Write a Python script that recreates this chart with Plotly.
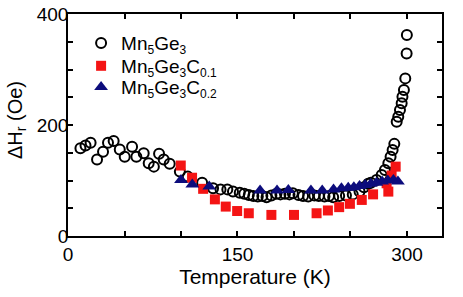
import plotly.graph_objects as go

# Mn5Ge3 (open circles)
t_ge3 = [11, 15.5, 20, 25.7, 31, 35.4, 40.4, 45.8, 50.2, 56.7, 60.5, 67, 71.4, 76, 80.6, 84.7, 90,
         99, 106, 118.7, 128.4, 135, 141, 146, 152, 156, 160, 164, 168, 172, 175.7, 180, 184.5, 188,
         192, 196, 199, 204, 208, 212.6, 218, 222, 227, 231, 234.7, 240, 246, 252, 258, 262, 265.7, 268,
         273, 277.6, 280.5, 283.5, 285.5, 287.3, 288.8, 290.9, 292.3, 293.8, 295.3, 296, 297.3, 298.5,
         299.7, 299.9]
y_ge3 = [158, 163, 168, 138, 152, 168, 171, 156, 143, 161, 143, 149, 131, 125, 148, 138, 130,
         116, 107, 96, 86, 84, 84, 80, 78, 76, 74, 72, 71, 72, 70, 73, 76, 75,
         76, 75, 77, 74, 72, 71, 73, 72, 71, 72, 70, 72, 73, 75, 80, 88, 94, 96,
         101, 110, 119, 131, 143, 155, 166, 206, 215, 227, 239, 251, 263, 284,
         329, 362]

# Mn5Ge3C0.1 (red squares)
t_c01 = [99.8, 109.8, 119.6, 130, 139.6, 149.7, 160, 180, 200, 220, 230, 240, 249.5, 260, 270,
         282, 283.5, 286.4, 290]
y_c01 = [127, 105, 85, 66, 53, 45, 41, 38, 38, 41, 46, 52, 58, 65, 75,
         95, 80, 109, 125]

# Mn5Ge3C0.2 (navy triangles)
t_c02 = [100, 110, 125, 170, 185, 195, 215, 225, 235, 242, 248, 253, 258, 263, 268, 273, 278, 283,
         288, 292]
y_c02 = [101, 93, 89, 82, 82, 83, 82, 82, 84, 86, 87, 88, 90, 92, 94, 96, 98, 100, 101, 98]

x_ticks = [0, 150, 300]
y_ticks = [0, 200, 400]

FONT = "Liberation Sans, Arial, sans-serif"


def sub(s):
    return "<sub><span style='font-size:12px'>" + s + "</span></sub>"


name_ge3 = "Mn" + sub("5") + "Ge" + sub("3")
name_c01 = "Mn" + sub("5") + "Ge" + sub("3") + "C" + sub("0.1")
name_c02 = "Mn" + sub("5") + "Ge" + sub("3") + "C" + sub("0.2")

fig = go.Figure()
fig.add_trace(go.Scatter(
    x=t_ge3, y=y_ge3, mode="markers", name=name_ge3, legend="legend",
    marker=dict(symbol="circle-open", size=10, color="black", line=dict(width=2, color="black"))))
fig.add_trace(go.Scatter(
    x=t_c01, y=y_c01, mode="markers", name=name_c01, legend="legend2",
    marker=dict(symbol="square", size=10, color="#f41414", line=dict(width=0))))
fig.add_trace(go.Scatter(
    x=t_c02, y=y_c02, mode="markers", name=name_c02, legend="legend3",
    marker=dict(symbol="triangle-up", size=12, color="#0c0c7c", line=dict(width=0))))

axis_common = dict(
    showline=True, linecolor="black", linewidth=1.5, mirror="ticks",
    ticks="inside", ticklen=5, tickwidth=1.5, tickcolor="black",
    showgrid=False, zeroline=False, automargin=False,
    tickfont=dict(family=FONT, size=19, color="black"),
)

fig.update_xaxes(
    range=[0, 331], tickvals=x_ticks, ticktext=[str(v) for v in x_ticks],
    minor=dict(tickvals=[50, 100, 200, 250], ticks="inside", ticklen=5, tickwidth=1.5, tickcolor="black"),
    title=dict(text="Temperature (K)", font=dict(family=FONT, size=21, color="black"), standoff=5),
    **axis_common)
fig.update_yaxes(
    range=[0, 400], tickvals=y_ticks, ticktext=[str(v) for v in y_ticks],
    minor=dict(tickvals=[50, 100, 150, 250, 300, 350], ticks="inside", ticklen=5, tickwidth=1.5, tickcolor="black"),
    ticklabelstandoff=-6,
    **axis_common)

fig.add_annotation(
    text="ΔH<sub>r</sub> (Oe)", textangle=-90, showarrow=False,
    xref="paper", yref="paper", x=-0.136, y=0.523, xanchor="center", yanchor="middle",
    font=dict(family=FONT, size=20, color="black"))

leg_common = dict(xanchor="left", yanchor="middle", bgcolor="rgba(0,0,0,0)",
                  font=dict(family=FONT, size=19, color="black"))

fig.update_layout(
    width=463, height=297,
    margin=dict(l=68, r=21, t=14, b=61),
    paper_bgcolor="white", plot_bgcolor="white",
    showlegend=True,
    legend=dict(x=0.035, y=0.869, **leg_common),
    legend2=dict(x=0.035, y=0.766, **leg_common),
    legend3=dict(x=0.035, y=0.671, **leg_common),
)

fig.write_html("out.html", config={"displayModeBar": False},
               post_script="document.body.style.margin='0';")
